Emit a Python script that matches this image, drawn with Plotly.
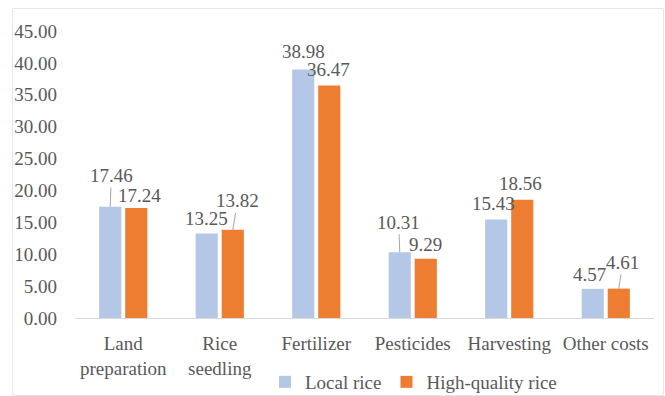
import plotly.graph_objects as go

# Cost categories and per-category costs for the two rice types
categories = ["Land<br>preparation", "Rice<br>seedling", "Fertilizer",
              "Pesticides", "Harvesting", "Other costs"]
local_rice = [17.46, 13.25, 38.98, 10.31, 15.43, 4.57]
high_quality_rice = [17.24, 13.82, 36.47, 9.29, 18.56, 4.61]
y_ticks = [0, 5, 10, 15, 20, 25, 30, 35, 40, 45]

BLUE = "#B4C7E7"
ORANGE = "#ED7D31"
TEXT = "#595959"
FONT = "Liberation Serif"
FS = 19

# Data-label placement: (x shift px, y offset px, leader line?)
local_label_style = [(1, -31, True), (0, -15, False), (0, -18, False),
                     (-1, -30, True), (-3, -16, False), (-3, -14, False)]
hq_label_style = [(3, -13, False), (5, -29, True), (-1, -16, False),
                  (0, -14, False), (-2, -16, False), (4, -26, True)]
BAR_OFFSET = 13  # px from category centre to each bar centre

fig = go.Figure()
fig.add_trace(go.Bar(x=categories, y=local_rice, name="Local rice",
                     marker=dict(color=BLUE, line=dict(width=0))))
fig.add_trace(go.Bar(x=categories, y=high_quality_rice, name="High-quality rice",
                     marker=dict(color=ORANGE, line=dict(width=0))))

annotations = []
for values, styles, side in ((local_rice, local_label_style, -1),
                             (high_quality_rice, hq_label_style, 1)):
    for cat, val, (dx, dy, leader) in zip(categories, values, styles):
        common = dict(x=cat, y=val, text=f"{val:.2f}",
                      font=dict(family=FONT, size=FS, color=TEXT),
                      xshift=side * BAR_OFFSET)
        if leader:
            annotations.append(dict(common, showarrow=True, arrowhead=0,
                                    arrowwidth=1, arrowcolor="#A6A6A6",
                                    ax=dx, ay=dy, standoff=0,
                                    yanchor="middle"))
        else:
            annotations.append(dict(common, showarrow=False,
                                    xshift=side * BAR_OFFSET + dx,
                                    yshift=-dy, yanchor="middle"))

# plot area: left 75, right 654, top 31, bottom 318 (pixels)
L, R, T, B = 75, 11, 31, 78
W, H = 665, 396
pw, ph = W - L - R, H - T - B

def px_to_paper_x(px):
    return (px - L) / pw

def px_to_paper_y(py):
    return (H - B - py) / ph

fig.update_layout(
    width=W, height=H,
    margin=dict(l=L, r=R, t=T, b=B, pad=0, autoexpand=False),
    paper_bgcolor="white", plot_bgcolor="white",
    barmode="group", bargap=0.46, bargroupgap=0.15,
    font=dict(family=FONT, size=FS, color=TEXT),
    showlegend=True,
    legend=dict(orientation="h", x=px_to_paper_x(265), xanchor="left",
                y=px_to_paper_y(382), yanchor="middle",
                font=dict(family=FONT, size=FS, color=TEXT),
                bgcolor="rgba(0,0,0,0)", itemwidth=30),
    annotations=annotations,
    shapes=[dict(type="rect", xref="paper", yref="paper",
                 x0=px_to_paper_x(12.5), x1=px_to_paper_x(663.5),
                 y0=px_to_paper_y(395.5), y1=px_to_paper_y(8.5),
                 line=dict(color="#E6E6E6", width=1), layer="below")],
)
fig.update_xaxes(showgrid=False, showline=True, linecolor="#D9D9D9",
                 linewidth=1, ticks="", automargin=False,
                 tickfont=dict(family=FONT, size=FS, color=TEXT),
                 ticklabelstandoff=8, fixedrange=True)
fig.update_yaxes(range=[0, 45], tickvals=y_ticks, tickformat=".2f",
                 showgrid=False, zeroline=False, showline=False, ticks="",
                 automargin=False,
                 tickfont=dict(family=FONT, size=FS, color=TEXT),
                 ticklabelstandoff=17, fixedrange=True)

fig.write_html("out.html", config={"displayModeBar": False})
